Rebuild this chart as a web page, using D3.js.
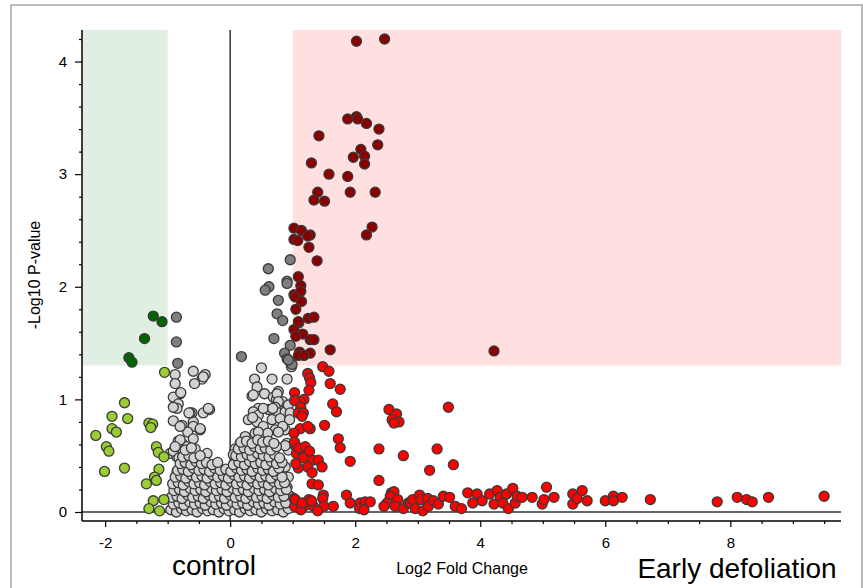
<!DOCTYPE html>
<html>
<head>
<meta charset="utf-8">
<script src="https://cdn.jsdelivr.net/npm/d3@7"></script>
<style>
  body { margin: 0; background: #fff; }
  svg { display: block; font-family: "Liberation Sans", Arial, sans-serif; }
</style>
</head>
<body>
<div id="chart"></div>
<script>
// volcano plot: log2 fold change (x) vs -log10 p (y), one array per region

// x > 1, p < 0.05
var upSig = [
  [2.02,4.18],[2.47,4.20],[1.88,3.49],[2.02,3.51],[2.04,3.49],[2.18,3.45],[2.38,3.40],[1.42,3.34],
  [2.36,3.26],[2.09,3.22],[2.15,3.16],[1.97,3.15],[2.15,3.09],[1.30,3.10],[1.58,3.00],[1.88,2.98],
  [1.40,2.84],[1.92,2.84],[2.32,2.84],[1.34,2.77],[1.51,2.76],[2.27,2.53],[2.18,2.46],[1.02,2.52],
  [1.14,2.50],[1.28,2.46],[1.02,2.42],[1.08,2.41],[1.24,2.45],[1.26,2.35],[1.39,2.23],[1.09,2.09],
  [1.13,2.01],[1.02,1.93],[1.13,1.96],[1.04,1.91],[1.14,1.87],[1.05,1.80],[1.10,1.68],[1.25,1.72],
  [1.34,1.73],[1.09,1.69],[1.02,1.62],[1.16,1.58],[1.05,1.56],[1.28,1.53],[1.34,1.53],[1.60,1.44],
  [1.11,1.42],[1.28,1.41],[1.09,1.39],[1.18,1.39],[4.22,1.43]
];

// x > 1, not significant
var upNs = [
  [1.48,1.29],[1.58,1.25],[1.24,1.23],[1.27,1.19],[1.29,1.15],[1.26,1.08],[1.60,1.14],[1.76,1.09],
  [1.03,1.06],[1.18,1.00],[1.12,0.98],[1.03,0.99],[1.13,0.93],[1.09,0.88],[1.17,0.88],[1.15,0.85],
  [1.64,0.96],[1.70,0.89],[1.51,0.77],[1.12,0.74],[1.28,0.74],[1.24,0.76],[1.02,0.70],[1.73,0.65],
  [1.76,0.57],[1.04,0.59],[1.06,0.52],[1.18,0.51],[1.17,0.48],[1.32,0.46],[1.41,0.46],[1.47,0.40],
  [1.24,0.40],[1.09,0.39],[1.31,0.35],[1.92,0.45],[1.31,0.25],[1.41,0.24],[1.49,0.15],[1.48,0.12],
  [1.02,0.12],[1.03,0.05],[1.26,0.11],[1.18,0.05],[1.33,0.05],[1.50,0.05],[1.65,0.05],[1.40,0.01],
  [1.13,0.02],[1.86,0.15],[1.92,0.08],[2.08,0.08],[2.07,0.03],[2.16,0.09],[2.24,0.09],[2.14,0.02],
  [1.03,0.62],[1.10,0.57],[1.20,0.58],[1.27,0.54],[1.05,0.43],[1.04,0.11],[1.15,0.08],[1.30,0.10],
  [2.38,0.56],[2.38,0.28],[2.54,0.91],[2.66,0.87],[2.59,0.82],[2.70,0.80],[2.62,0.79],[2.77,0.50],
  [2.58,0.17],[2.62,0.18],[2.56,0.14],[2.68,0.11],[2.51,0.08],[2.46,0.05],[2.64,0.05],[2.77,0.03],
  [2.85,0.08],[3.49,0.93],[3.31,0.56],[3.57,0.42],[3.19,0.37],
  [2.88,0.08],[2.92,0.11],[2.96,0.03],[3.03,0.15],[3.05,0.11],[3.08,0.01],[3.16,0.12],[3.17,0.05],
  [3.25,0.10],[3.33,0.07],[3.41,0.14],[3.51,0.13],[3.60,0.05],[3.70,0.03],[3.80,0.17],[3.88,0.08],
  [3.95,0.16],[4.03,0.10],[4.15,0.16],[4.22,0.07],[4.27,0.19],[4.32,0.13],[4.36,0.08],[4.42,0.16],
  [4.45,0.03],[4.52,0.21],[4.56,0.08],[4.59,0.14],[4.67,0.13],[4.83,0.13],[4.99,0.07],[5.02,0.11],
  [5.06,0.22],[5.18,0.13],[5.48,0.16],[5.48,0.07],[5.55,0.12],[5.63,0.19],[5.71,0.10],[6.00,0.10],
  [6.13,0.14],[6.13,0.10],[6.27,0.13],[6.72,0.11],[7.79,0.09],[8.11,0.13],[8.26,0.11],[8.35,0.09],
  [8.61,0.13],[9.50,0.14]
];

// x < -1, p < 0.05
var downSig = [
  [-1.23,1.74],[-1.09,1.69],[-1.37,1.54],[-1.62,1.37],[-1.57,1.33]
];

// x < -1, not significant
var downNs = [
  [-1.05,1.24],[-1.69,0.97],[-1.89,0.85],[-1.64,0.83],[-2.15,0.68],[-1.89,0.74],[-1.82,0.71],
  [-1.30,0.79],[-1.24,0.78],[-1.27,0.75],[-1.98,0.58],[-1.94,0.54],[-1.18,0.58],[-1.15,0.53],
  [-1.06,0.49],[-2.01,0.36],[-1.69,0.39],[-1.14,0.38],[-1.21,0.31],[-1.18,0.28],[-1.34,0.25],
  [-1.23,0.10],[-1.30,0.03],[-1.13,0.01],[-1.06,0.11]
];

// |x| < 1, p < 0.05
var midSig = [
  [0.61,2.16],[0.96,2.24],[0.91,2.05],[0.91,2.03],[0.62,2.00],[0.56,1.97],[0.77,1.88],[0.75,1.76],
  [0.84,1.70],[0.70,1.54],[0.96,1.48],[0.87,1.41],[0.91,1.36],[0.96,1.33],[0.99,1.31],[0.93,1.35],
  [0.18,1.38],[-0.86,1.73],[-0.86,1.51],[-0.84,1.32]
];

// |x| < 1, not significant
var midNs = [
  // outer scatter, left of zero
  [-0.88,1.22],[-0.59,1.25],[-0.40,1.22],[-0.45,1.18],[-0.57,1.14],[-0.88,1.14],[-0.80,1.05],
  [-0.91,1.02],[-0.83,0.96],[-0.85,0.92],[-0.61,0.88],[-0.43,0.88],[-0.33,0.91],[-0.91,0.81],
  [-0.77,0.77],[-0.59,0.80],[-0.59,0.76],[-0.48,0.73],[-0.68,0.71],[-0.59,0.65],[-0.83,0.63],
  [-0.77,0.61],[-0.56,0.56],[-0.37,0.52],[-0.96,0.52],[-0.85,0.49],[-0.91,0.93],[-0.64,0.88],
  [-0.80,0.76],[-0.69,0.58],[-0.80,0.64],[-0.91,0.54],[-0.79,1.06],[-0.66,0.88],[-0.88,0.58],
  [-0.82,0.48],[-0.85,0.36],[-0.71,0.36],[-0.43,1.20],[-0.35,0.92],[-0.48,0.74],
  // outer scatter, right of zero
  [0.50,1.28],[0.39,1.18],[0.67,1.18],[0.91,1.18],[0.43,1.11],[0.35,1.03],[0.55,1.05],[0.77,1.07],
  [0.69,1.02],[0.98,1.29],[0.74,1.00],[0.84,0.98],[0.37,1.04],[0.75,1.05],[0.77,0.98],[0.72,0.93],
  [0.45,0.92],[0.37,0.89],[0.61,0.91],[0.45,0.86],[0.77,0.88],[0.88,0.89],[0.29,0.82],[0.43,0.80],
  [0.67,0.82],[0.85,0.79],[0.53,0.76],[0.88,0.73],[0.72,0.73],[0.24,0.67],[0.40,0.70],[0.60,0.70],
  [0.53,0.92],[0.36,0.84],[0.68,0.92],[0.80,0.83],[0.93,0.95],[0.96,0.88],[0.95,0.82],[0.84,0.76],
  [0.77,0.71],[0.45,0.71],[0.08,0.56],[0.05,0.51],[0.16,0.61],[0.91,0.61],[0.93,0.55],[0.88,0.40],
  [0.93,0.31],[0.91,0.22],[0.96,0.14],[0.88,0.59],
  // dense core
  [-0.95,0.02],[-0.86,0.00],[-0.78,0.03],[-0.70,0.01],[-0.61,0.02],[-0.53,0.00],[-0.44,0.03],[-0.36,0.01],
  [-0.27,0.02],[-0.18,0.00],[-0.10,0.03],[-0.02,0.01],[0.07,0.02],[0.15,0.00],[0.24,0.03],[0.32,0.01],
  [0.41,0.02],[0.50,0.00],[0.58,0.03],[0.67,0.01],[0.76,0.02],[0.85,0.00],[0.93,0.03],
  [-0.91,0.07],[-0.82,0.08],[-0.74,0.06],[-0.65,0.09],[-0.57,0.07],[-0.48,0.08],[-0.40,0.06],[-0.31,0.09],
  [-0.23,0.07],[-0.14,0.08],[-0.06,0.06],[0.03,0.09],[0.11,0.07],[0.20,0.08],[0.28,0.06],[0.37,0.09],
  [0.45,0.07],[0.54,0.08],[0.62,0.06],[0.71,0.09],[0.80,0.07],[0.89,0.08],
  [-0.94,0.13],[-0.85,0.14],[-0.77,0.12],[-0.68,0.15],[-0.60,0.13],[-0.51,0.14],[-0.43,0.12],[-0.34,0.15],
  [-0.26,0.13],[-0.17,0.14],[-0.09,0.12],[0.00,0.15],[0.08,0.13],[0.17,0.14],[0.25,0.12],[0.34,0.15],
  [0.42,0.13],[0.51,0.14],[0.59,0.12],[0.68,0.15],[0.77,0.13],[0.86,0.14],
  [-0.90,0.19],[-0.81,0.20],[-0.73,0.18],[-0.64,0.21],[-0.56,0.19],[-0.47,0.20],[-0.39,0.18],[-0.30,0.21],
  [-0.22,0.19],[-0.13,0.20],[-0.05,0.18],[0.04,0.21],[0.12,0.19],[0.21,0.20],[0.29,0.18],[0.38,0.21],
  [0.46,0.19],[0.55,0.20],[0.63,0.18],[0.72,0.21],[0.81,0.19],[0.90,0.20],
  [-0.92,0.25],[-0.83,0.26],[-0.75,0.24],[-0.66,0.27],[-0.58,0.25],[-0.49,0.26],[-0.41,0.24],[-0.32,0.27],
  [-0.24,0.25],[-0.15,0.26],[-0.07,0.24],[0.02,0.27],[0.10,0.25],[0.19,0.26],[0.27,0.24],[0.36,0.27],
  [0.44,0.25],[0.53,0.26],[0.61,0.24],[0.70,0.27],[0.79,0.25],[0.87,0.26],
  [-0.88,0.31],[-0.79,0.32],[-0.71,0.30],[-0.62,0.33],[-0.54,0.31],[-0.45,0.32],[-0.37,0.30],[-0.28,0.33],
  [-0.20,0.31],[-0.11,0.32],[-0.03,0.30],[0.06,0.33],[0.14,0.31],[0.23,0.32],[0.31,0.30],[0.40,0.33],
  [0.48,0.31],[0.57,0.32],[0.65,0.30],[0.74,0.33],[0.83,0.31],
  [-0.84,0.37],[-0.76,0.38],[-0.67,0.36],[-0.59,0.39],[-0.50,0.37],[-0.42,0.38],[-0.33,0.36],[-0.25,0.39],
  [-0.16,0.37],[-0.07,0.38],[0.01,0.36],[0.10,0.39],[0.18,0.37],[0.27,0.38],[0.35,0.36],[0.44,0.39],
  [0.52,0.37],[0.61,0.38],[0.69,0.36],[0.78,0.39],
  [-0.80,0.43],[-0.72,0.44],[-0.63,0.42],[-0.55,0.45],[-0.46,0.43],[-0.38,0.44],[-0.29,0.42],[-0.20,0.44],
  [0.05,0.42],[0.14,0.44],[0.23,0.42],[0.31,0.45],[0.40,0.43],[0.49,0.44],[0.57,0.42],[0.66,0.45],
  [0.74,0.43],[0.83,0.44],
  [-0.76,0.49],[-0.66,0.50],[-0.58,0.48],[-0.48,0.50],[0.09,0.50],[0.18,0.49],[0.27,0.51],[0.35,0.49],
  [0.44,0.52],[0.53,0.50],[0.62,0.49],[0.71,0.51],[0.79,0.48],
  [-0.72,0.55],[-0.62,0.57],[0.13,0.56],[0.22,0.57],[0.31,0.55],[0.39,0.58],[0.48,0.56],[0.56,0.57],
  [0.65,0.55],[0.74,0.58],
  [0.17,0.62],[0.26,0.63],[0.35,0.61],[0.44,0.64],[0.52,0.62],[0.61,0.63],[0.70,0.61]
];

var xTicks = [-2, 0, 2, 4, 6, 8];
var yTicks = [0, 1, 2, 3, 4];
var fcCut = 1;
var pCut = 1.3;

var groups = [
  { pts: midNs,   fill: '#d3d3d3' },
  { pts: midSig,  fill: '#7f7f7f' },
  { pts: downNs,  fill: '#9acd32' },
  { pts: downSig, fill: '#006400' },
  { pts: upNs,    fill: '#ff0000' },
  { pts: upSig,   fill: '#8b0000' }
];

var width = 863, height = 588;
var plotLeft = 82, plotRight = 841, plotTop = 30, zeroY = 512, axisY = 521;

var svg = d3.select('#chart').append('svg')
  .attr('width', width)
  .attr('height', height);

var x = d3.scaleLinear().domain([-2.37, 9.77]).range([plotLeft, plotRight]);
var y = d3.scaleLinear().domain([0, 4.28]).range([zeroY, plotTop]);

// frame
svg.append('rect')
  .attr('x', 11).attr('y', 5)
  .attr('width', 851).attr('height', 620)
  .attr('fill', 'none')
  .attr('stroke', '#a6a6a6')
  .attr('stroke-width', 1.5);

// shaded significance regions
svg.append('rect')
  .attr('x', x(-2.37)).attr('y', y(4.28))
  .attr('width', x(-fcCut) - x(-2.37))
  .attr('height', y(pCut) - y(4.28))
  .attr('fill', '#e1efe2');
svg.append('rect')
  .attr('x', x(fcCut)).attr('y', y(4.28))
  .attr('width', x(9.77) - x(fcCut))
  .attr('height', y(pCut) - y(4.28))
  .attr('fill', '#ffe0e1');

// zero lines
svg.append('line')
  .attr('x1', x(0)).attr('x2', x(0))
  .attr('y1', plotTop).attr('y2', axisY)
  .attr('stroke', '#333').attr('stroke-width', 1.5);
svg.append('line')
  .attr('x1', plotLeft).attr('x2', plotRight)
  .attr('y1', y(0)).attr('y2', y(0))
  .attr('stroke', '#333').attr('stroke-width', 1.5);

// points
groups.forEach(function(g){
  svg.append('g').selectAll('circle')
    .data(g.pts)
    .enter()
    .append('circle')
    .attr('cx', function(d){ return x(d[0]); })
    .attr('cy', function(d){ return y(d[1]); })
    .attr('r', 5)
    .attr('fill', g.fill)
    .attr('stroke', '#3a3a3a')
    .attr('stroke-width', 1.3);
});

// axes
var fmt = function(d){ return String(d); };
var yMinor = d3.range(0, 22).map(function(d){ return d / 5; }).filter(function(d){ return d % 1 !== 0; });
var xMinor = d3.range(-4, 20).map(function(d){ return d / 2; }).filter(function(d){ return d % 2 !== 0; });

var yAxis = svg.append('g').attr('transform', 'translate(' + plotLeft + ',0)');
yAxis.call(d3.axisLeft(y).tickValues(yTicks).tickSize(7).tickPadding(8).tickFormat(fmt));
yAxis.append('g').call(d3.axisLeft(y).tickValues(yMinor).tickSize(3).tickFormat(''));

var xAxis = svg.append('g').attr('transform', 'translate(0,' + axisY + ')');
xAxis.call(d3.axisBottom(x).tickValues(xTicks).tickSize(6).tickPadding(10).tickFormat(fmt));
xAxis.append('g').call(d3.axisBottom(x).tickValues(xMinor).tickSize(3).tickFormat(''));

svg.selectAll('.domain').remove();
svg.selectAll('.tick line').attr('stroke', '#000').attr('stroke-width', 1.2);
svg.selectAll('.tick text')
  .attr('font-family', '"Liberation Sans", Arial, sans-serif')
  .attr('font-size', 15)
  .attr('fill', '#000');

svg.append('line')
  .attr('x1', plotLeft).attr('x2', plotLeft)
  .attr('y1', plotTop).attr('y2', axisY)
  .attr('stroke', '#000').attr('stroke-width', 1.5);
svg.append('line')
  .attr('x1', plotLeft).attr('x2', plotRight)
  .attr('y1', axisY).attr('y2', axisY)
  .attr('stroke', '#000').attr('stroke-width', 1.5);

// titles
svg.append('text')
  .attr('transform', 'translate(40,275) rotate(-90)')
  .attr('text-anchor', 'middle')
  .attr('font-size', 16)
  .text('-Log10 P-value');

svg.append('text')
  .attr('x', 462).attr('y', 574)
  .attr('text-anchor', 'middle')
  .attr('font-size', 16)
  .text('Log2 Fold Change');

svg.append('text')
  .attr('x', 214).attr('y', 575)
  .attr('text-anchor', 'middle')
  .attr('font-size', 28)
  .text('control');

svg.append('text')
  .attr('x', 737).attr('y', 578)
  .attr('text-anchor', 'middle')
  .attr('font-size', 28)
  .text('Early defoliation');
</script>
</body>
</html>
